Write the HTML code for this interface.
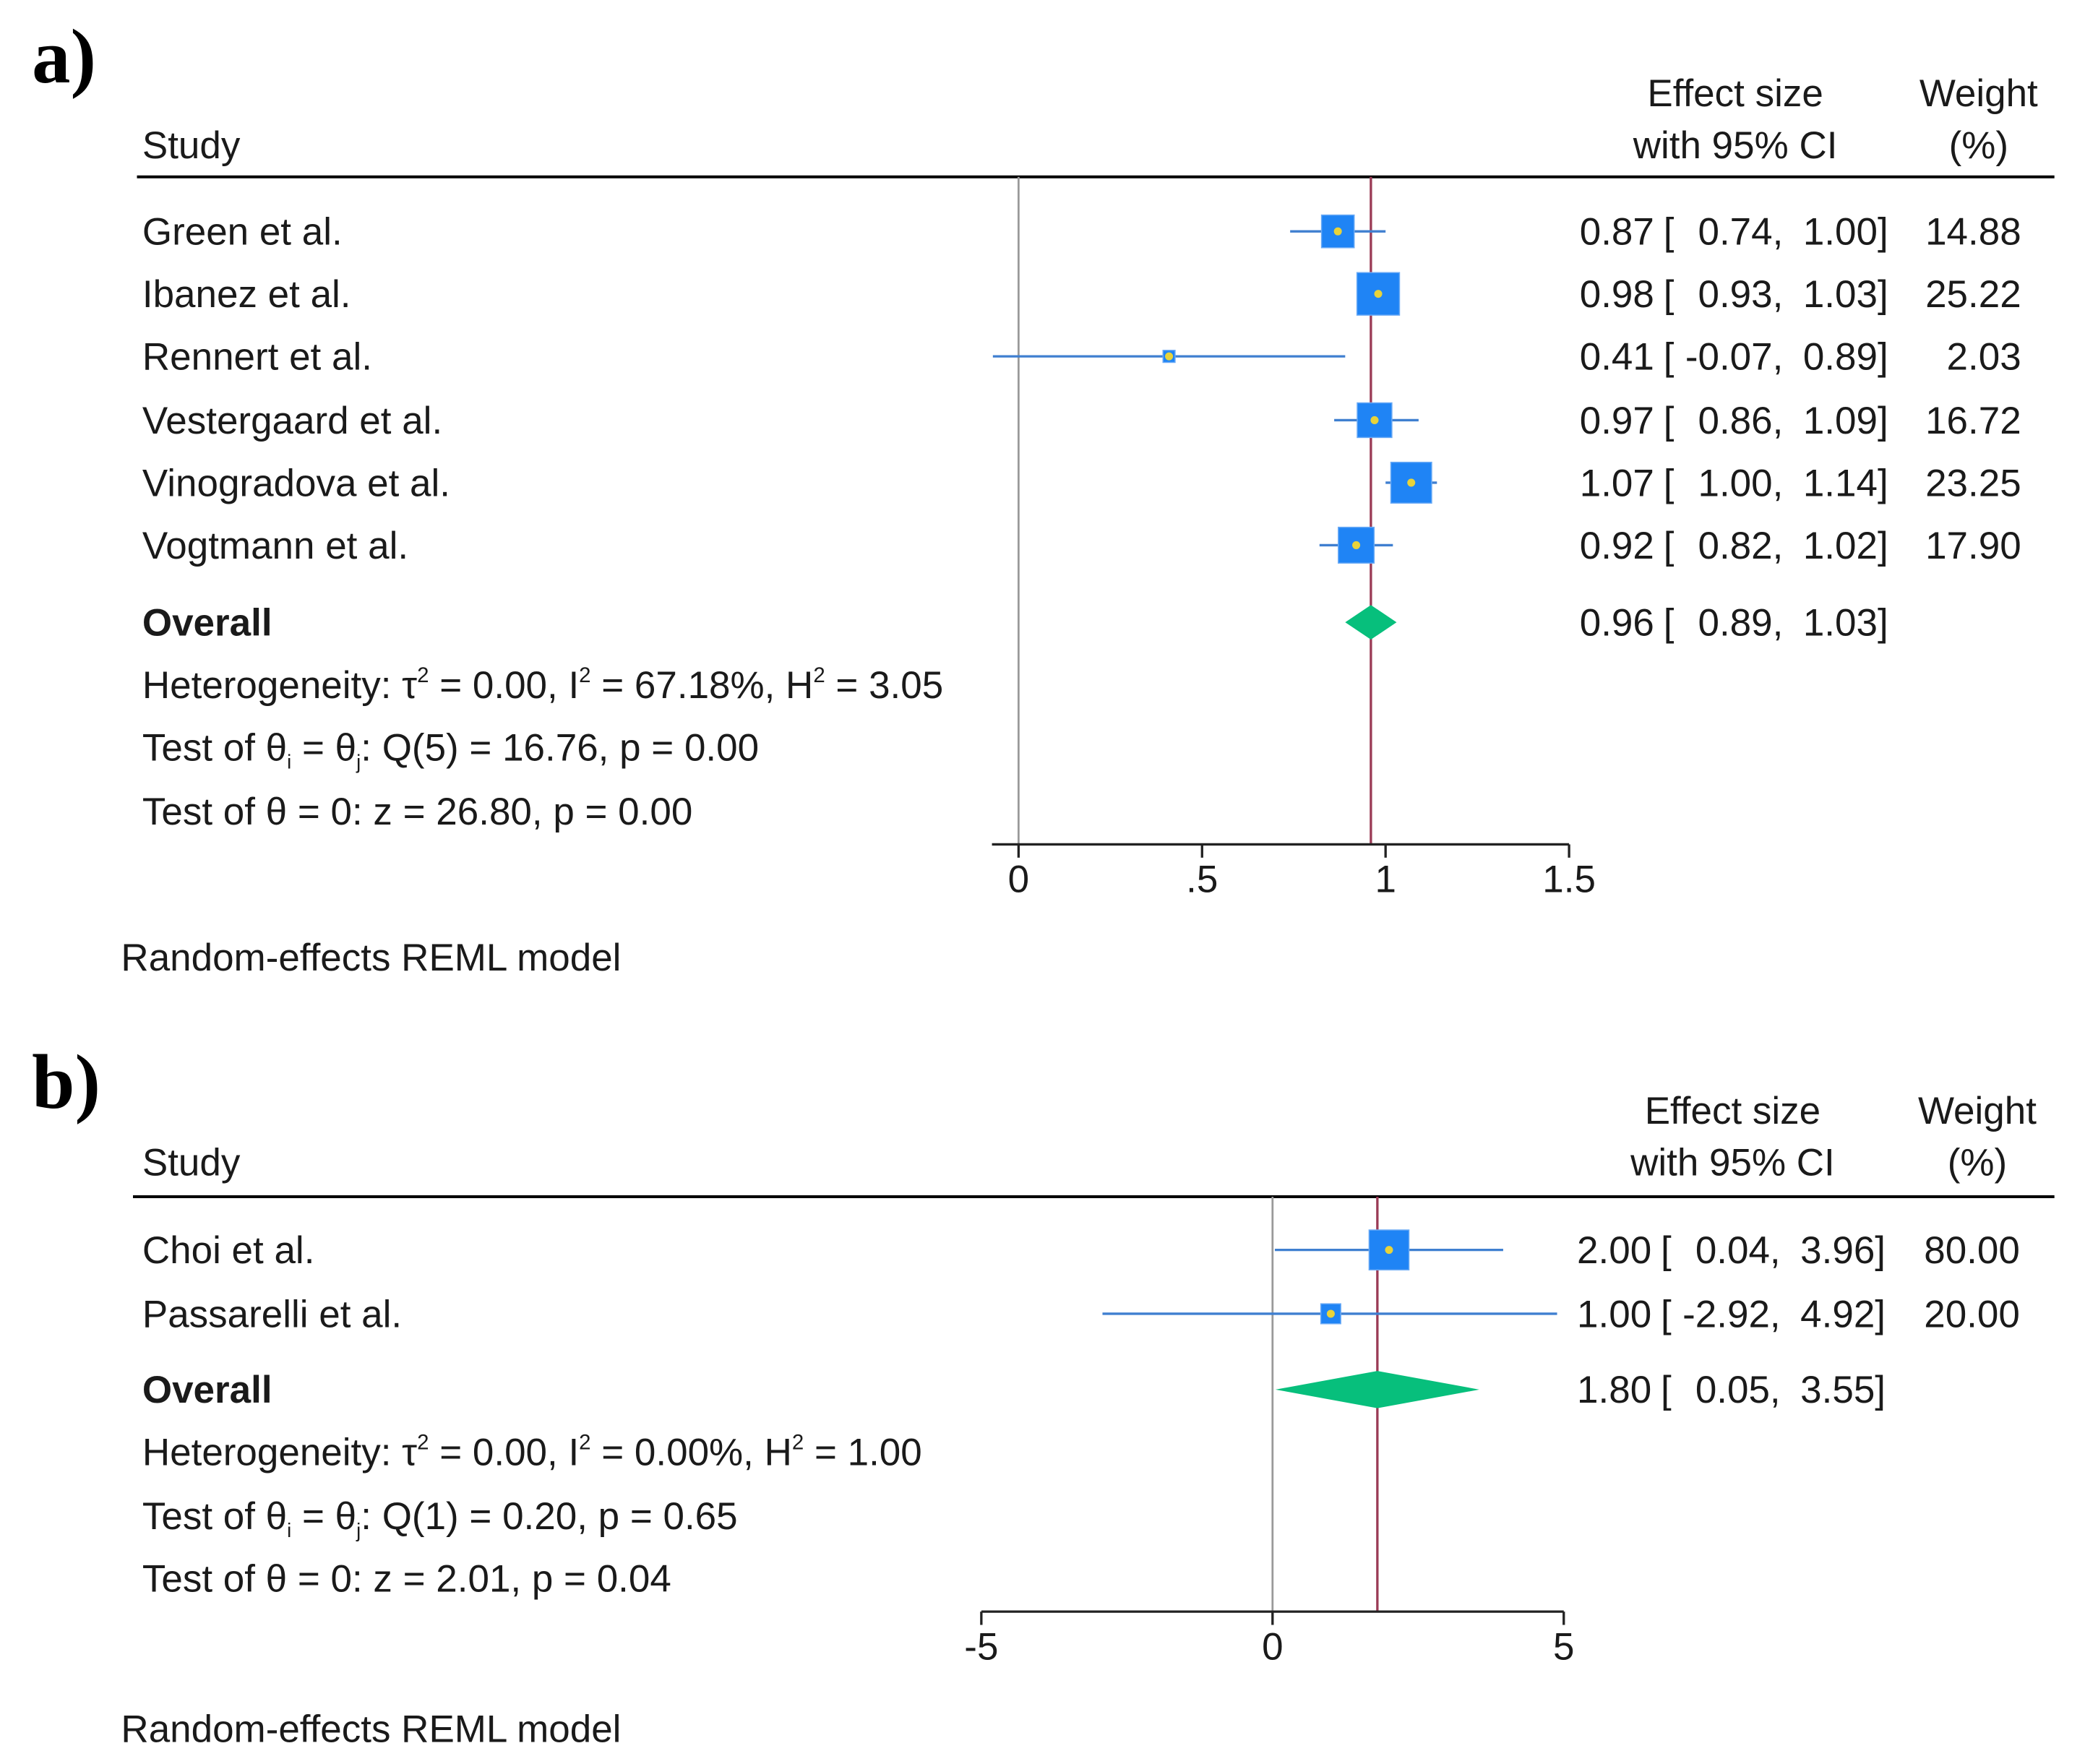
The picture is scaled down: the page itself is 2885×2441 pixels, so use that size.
<!DOCTYPE html>
<html><head><meta charset="utf-8">
<style>
html,body{margin:0;padding:0;background:#fff;}
svg{display:block;}
text{font-family:"Liberation Sans",Arial,sans-serif;fill:#1a1a1a;}
.lbl{font-size:28.8px;}
.panel{font-family:"Liberation Serif",serif;font-weight:bold;font-size:58px;fill:#000;}
</style></head>
<body>
<svg id="chart" width="2885" height="2441" viewBox="0 0 1568 1326.6" preserveAspectRatio="none" xmlns="http://www.w3.org/2000/svg">
<rect width="1568" height="1327" fill="#fff"/>
<g id="pa"></g>
<g id="pb"></g>
</svg>
<script>
// Panel A data
const aStudies = ["Green et al.","Ibanez et al.","Rennert et al.","Vestergaard et al.","Vinogradova et al.","Vogtmann et al."];
const aES = [0.87,0.98,0.41,0.97,1.07,0.92];
const aLo = [0.74,0.93,-0.07,0.86,1.00,0.82];
const aHi = [1.00,1.03,0.89,1.09,1.14,1.02];
const aW = [14.88,25.22,2.03,16.72,23.25,17.90];
const aOverall = [0.96,0.89,1.03];
const aTicks = [0,0.5,1,1.5];
const aTickLabels = ["0",".5","1","1.5"];
const aStats = ["0.00","67.18%","3.05","Q(5) = 16.76, p = 0.00","z = 26.80, p = 0.00"];
// Panel B data
const bStudies = ["Choi et al.","Passarelli et al."];
const bES = [2.00,1.00];
const bLo = [0.04,-2.92];
const bHi = [3.96,4.92];
const bW = [80.00,20.00];
const bOverall = [1.80,0.05,3.55];
const bTicks = [-5,0,5];
const bTickLabels = ["-5","0","5"];
const bStats = ["0.00","0.00%","1.00","Q(1) = 0.20, p = 0.65","z = 2.01, p = 0.04"];

const NS="http://www.w3.org/2000/svg";
function mk(parent,tag,attrs,txt){const e=document.createElementNS(NS,tag);for(const k in attrs)e.setAttribute(k,attrs[k]);if(txt!==undefined)e.textContent=txt;parent.appendChild(e);return e;}
function f2(v){return v.toFixed(2);}

function panel(g,cfg){
  const {label,labelY,top,lineX0,rows,studies,es,lo,hi,w,ov,ticks,tickLabels,stats,x0px,x1px,v0,v1,axisY,axisX0,axisX1,esEnd,wEnd,hdrY,modelY,maxSide,diaH} = cfg;
  const sx=v=>x0px+(v-v0)*(x1px-x0px)/(v1-v0);
  let e;
  e=mk(g,'text',{x:24,y:labelY,class:'panel'},label);
  
  
  e=mk(g,'text',{x:107,y:hdrY+48,class:'lbl'},'Study');
  
  
  e=mk(g,'text',{x:esEnd-115,y:hdrY+9,class:'lbl','text-anchor':'middle'},'Effect size');
  
  
  e=mk(g,'text',{x:esEnd-115,y:hdrY+48,class:'lbl','text-anchor':'middle'},'with 95% CI');
  
  
  e=mk(g,'text',{x:wEnd-32,y:hdrY+9,class:'lbl','text-anchor':'middle'},'Weight');
  
  
  e=mk(g,'text',{x:wEnd-32,y:hdrY+48,class:'lbl','text-anchor':'middle'},'(%)');
  
  
  e=mk(g,'line',{x1:lineX0,x2:1545,y1:top,y2:top,stroke:'#000','stroke-width':2.2});
  
  
  e=mk(g,'line',{x1:sx(0),x2:sx(0),y1:top,y2:axisY,stroke:'#999','stroke-width':1.5});
  
  
  e=mk(g,'line',{x1:sx(ov[0]),x2:sx(ov[0]),y1:top,y2:axisY,stroke:'#9a3a55','stroke-width':1.8});
  
  
  const wmax=Math.max(...w);
  const textEntry=(y,a,b,c,name)=>{
    const t=mk(g,'text',{x:esEnd-176,y:y+10,class:'lbl','text-anchor':'end'},f2(a));
    
    
    let t2=mk(g,'text',{x:esEnd-169,y:y+10,class:'lbl'},'[');
    
    
    let t3=mk(g,'text',{x:esEnd-79,y:y+10,class:'lbl','text-anchor':'end'},f2(b)+',');
    
    
    let t4=mk(g,'text',{x:esEnd,y:y+10,class:'lbl','text-anchor':'end'},f2(c)+']');
    
    
  };
  studies.forEach((s,i)=>{
    const y=rows[i];
    let t=mk(g,'text',{x:107,y:y+10,class:'lbl'},s);
    
    
    let l=mk(g,'line',{x1:Math.max(sx(lo[i]),axisX0),x2:Math.min(sx(hi[i]),axisX1-5),y1:y,y2:y,stroke:'#3f7fd0','stroke-width':1.8});
    
    
    const side=maxSide*Math.sqrt(w[i]/wmax);
    let r=mk(g,'rect',{x:sx(es[i])-side/2,y:y-side/2,width:side,height:side,fill:'#1f84f5',stroke:'#6aaaf5','stroke-width':0.8});
    
    
    let c=mk(g,'circle',{cx:sx(es[i]),cy:y,r:3,fill:'#e8d33a'});
    
    
    textEntry(y,es[i],lo[i],hi[i],'study');
    let wt=mk(g,'text',{x:wEnd,y:y+10,class:'lbl','text-anchor':'end'},f2(w[i]));
    
    
  });
  const oy=rows[studies.length];
  let ot=mk(g,'text',{x:107,y:oy+10,class:'lbl','font-weight':'bold'},'Overall');
  
  
  let d=mk(g,'polygon',{points:`${sx(ov[1])},${oy} ${sx(ov[0])},${oy-diaH} ${sx(ov[2])},${oy} ${sx(ov[0])},${oy+diaH}`,fill:'#07bf7c'});
  
  
  textEntry(oy,ov[0],ov[1],ov[2],'overall');
  const hy=rows[studies.length+1];
  let h=mk(g,'text',{x:107,y:hy+10,class:'lbl'});
  
  
  h.innerHTML=`Heterogeneity: τ<tspan dy="-12" font-size="16">2</tspan><tspan dy="12"> = ${stats[0]}, I</tspan><tspan dy="-12" font-size="16">2</tspan><tspan dy="12"> = ${stats[1]}, H</tspan><tspan dy="-12" font-size="16">2</tspan><tspan dy="12"> = ${stats[2]}</tspan>`;
  let q=mk(g,'text',{x:107,y:rows[studies.length+2]+10,class:'lbl'});
  
  
  q.innerHTML=`Test of θ<tspan dy="6" font-size="15">i</tspan><tspan dy="-6"> = θ</tspan><tspan dy="6" font-size="15">j</tspan><tspan dy="-6">: ${stats[3]}</tspan>`;
  let z=mk(g,'text',{x:107,y:rows[studies.length+3]+10,class:'lbl'},`Test of θ = 0: ${stats[4]}`);
  
  
  let ax=mk(g,'line',{x1:axisX0,x2:axisX1,y1:axisY,y2:axisY,stroke:'#222','stroke-width':1.8});
  
  
  ticks.forEach((v,i)=>{
    let tk=mk(g,'line',{x1:sx(v),x2:sx(v),y1:axisY,y2:axisY+10,stroke:'#222','stroke-width':1.8});
    
    
    let tl=mk(g,'text',{x:sx(v),y:axisY+36,class:'lbl','text-anchor':'middle'},tickLabels[i]);
    
    
  });
  let m=mk(g,'text',{x:91,y:modelY+10,class:'lbl'},'Random-effects REML model');
  
  
}

panel(document.getElementById('pa'),{label:'a)',labelY:62,top:133,lineX0:103,
  rows:[174,221,268,316,363,410,468,515,562,610],studies:aStudies,es:aES,lo:aLo,hi:aHi,w:aW,ov:aOverall,
  ticks:aTicks,tickLabels:aTickLabels,stats:aStats,x0px:766,x1px:1180,v0:0,v1:1.5,axisY:635,axisX0:746,axisX1:1180,
  esEnd:1420,wEnd:1520,hdrY:71,modelY:720,maxSide:32,diaH:13});
panel(document.getElementById('pb'),{label:'b)',labelY:833,top:900,lineX0:100,
  rows:[940,988,1045,1092,1140,1187],studies:bStudies,es:bES,lo:bLo,hi:bHi,w:bW,ov:bOverall,
  ticks:bTicks,tickLabels:bTickLabels,stats:bStats,x0px:738,x1px:1176,v0:-5,v1:5,axisY:1212,axisX0:738,axisX1:1176,
  esEnd:1418,wEnd:1519,hdrY:836,modelY:1300,maxSide:30,diaH:14});
</script>
</body></html>
